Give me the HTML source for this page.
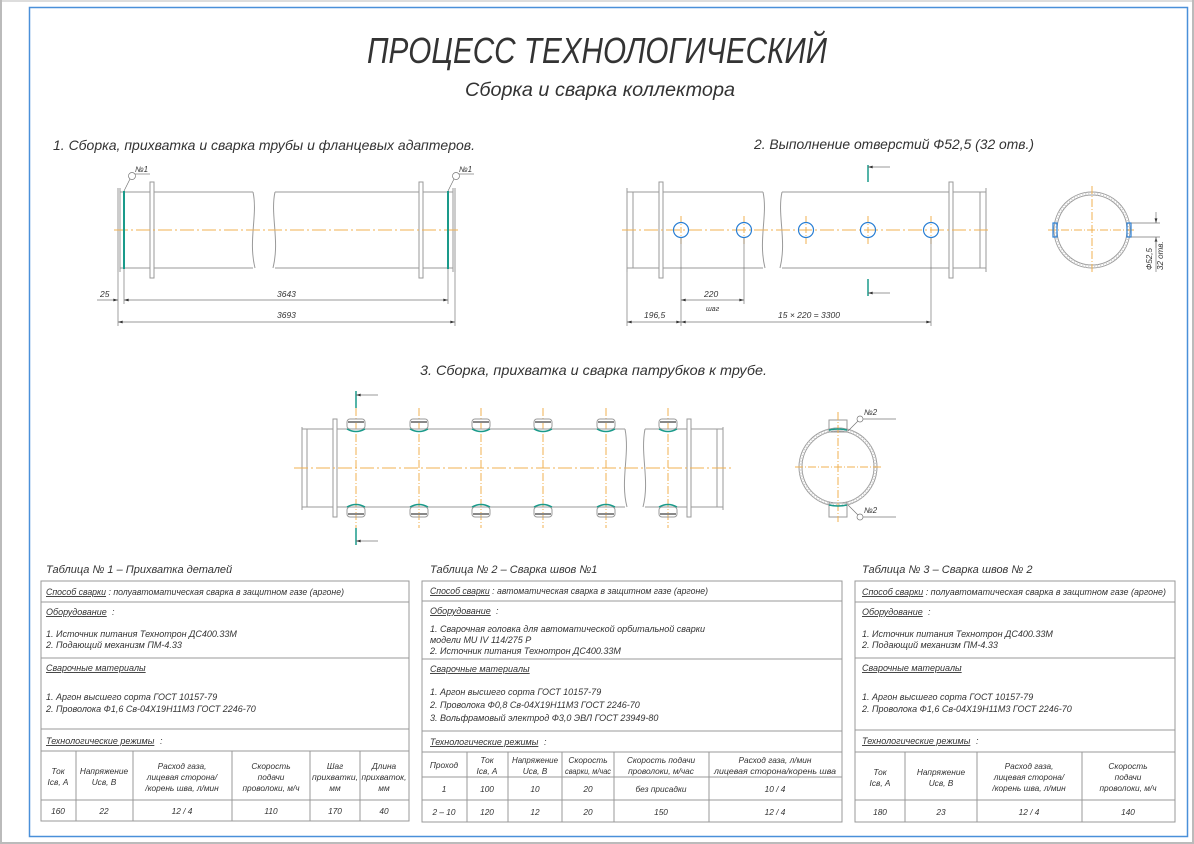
<!DOCTYPE html>
<html><head><meta charset="utf-8"><style>
html,body{margin:0;padding:0;background:#fff;}
svg{display:block;}
text{font-family:"Liberation Sans","DejaVu Sans",sans-serif;font-style:italic;fill:#333;}
.t{font-size:9px;}
.s{font-size:8.3px;}
.g{stroke:#9a9a9a;stroke-width:1;fill:none;}
.d{stroke:#777;stroke-width:0.7;fill:none;}
.c{stroke:#f0b050;stroke-width:1;stroke-dasharray:14 3 2 3;fill:none;}
.w{stroke:#1a9a8a;stroke-width:2;fill:none;}
.h{stroke:#2a7fd4;stroke-width:1.2;fill:none;}
.tb{stroke:#999;stroke-width:1;fill:none;}
</style></head><body>
<svg width="1194" height="844" viewBox="0 0 1194 844" xmlns="http://www.w3.org/2000/svg">
<defs><marker id="a" viewBox="0 0 10 6" refX="10" refY="3" markerWidth="8" markerHeight="4" orient="auto-start-reverse"><path d="M0,0L10,3L0,6z" fill="#333"/></marker></defs>
<rect x="0" y="0" width="1194" height="844" fill="#fff"/>
<line x1="1" y1="0" x2="1" y2="844" stroke="#bbb" stroke-width="2"/>
<line x1="0" y1="1" x2="1194" y2="1" stroke="#bbb" stroke-width="1"/>
<line x1="1193" y1="0" x2="1193" y2="844" stroke="#bbb" stroke-width="2"/>
<line x1="0" y1="843" x2="1194" y2="843" stroke="#bbb" stroke-width="2"/>
<rect x="29.5" y="7.5" width="1158" height="829" fill="none" stroke="#4a90d9" stroke-width="1.5"/>

<text x="597" y="63" font-size="36" text-anchor="middle" textLength="460" lengthAdjust="spacingAndGlyphs" style="font-weight:300">ПРОЦЕСС ТЕХНОЛОГИЧЕСКИЙ</text>
<text x="600" y="96" font-size="19" text-anchor="middle" textLength="270" lengthAdjust="spacingAndGlyphs">Сборка и сварка коллектора</text>
<text x="53" y="150" font-size="14" textLength="422" lengthAdjust="spacingAndGlyphs">1.  Сборка, прихватка и сварка трубы и фланцевых адаптеров.</text>
<text x="754" y="149" font-size="14" textLength="280" lengthAdjust="spacingAndGlyphs">2. Выполнение отверстий Ф52,5 (32 отв.)</text>
<text x="420" y="375" font-size="14" textLength="347" lengthAdjust="spacingAndGlyphs">3.  Сборка, прихватка и сварка патрубков к трубе.</text>

<!-- Drawing 1 -->
<g class="g">
<line x1="118" y1="188" x2="118" y2="272"/><line x1="120" y1="188" x2="120" y2="272"/>
<line x1="120" y1="192" x2="253" y2="192"/><line x1="120" y1="268" x2="253" y2="268"/>
<rect x="150" y="182" width="4" height="96" fill="#fff"/>
<path d="M253,192 C258,215 248,240 255,268"/>
<path d="M275,192 C270,215 280,240 273,268"/>
<line x1="275" y1="192" x2="453" y2="192"/><line x1="275" y1="268" x2="453" y2="268"/>
<rect x="419" y="182" width="4" height="96" fill="#fff"/>
<line x1="453" y1="188" x2="453" y2="272"/><line x1="455" y1="188" x2="455" y2="272"/>
</g>
<line class="c" x1="114" y1="230" x2="460" y2="230"/>
<line class="w" x1="124" y1="191" x2="124" y2="269"/>
<line class="w" x1="448" y1="191" x2="448" y2="269"/>
<circle cx="132" cy="176" r="3.5" class="d"/><line class="d" x1="130" y1="179" x2="124" y2="191"/><line class="d" x1="135" y1="174" x2="150" y2="174"/>
<text x="135" y="172" font-size="8">№1</text>
<circle cx="456" cy="176" r="3.5" class="d"/><line class="d" x1="454" y1="179" x2="448" y2="191"/><line class="d" x1="459" y1="174" x2="474" y2="174"/>
<text x="459" y="172" font-size="8">№1</text>
<g class="d"><line x1="118" y1="272" x2="118" y2="326"/><line x1="124" y1="269" x2="124" y2="304"/><line x1="448" y1="269" x2="448" y2="304"/><line x1="455" y1="272" x2="455" y2="326"/>
<line x1="97" y1="300" x2="118" y2="300" marker-end="url(#a)"/><line x1="124" y1="300" x2="448" y2="300" marker-start="url(#a)" marker-end="url(#a)"/>
<line x1="118" y1="322" x2="455" y2="322" marker-start="url(#a)" marker-end="url(#a)"/></g>
<text x="100" y="297" font-size="8.5">25</text>
<text x="277" y="297" font-size="8.5">3643</text>
<text x="277" y="318" font-size="8.5">3693</text>

<!-- Drawing 2 -->
<g class="g">
<line x1="627" y1="188" x2="627" y2="272"/><line x1="633" y1="192" x2="633" y2="268"/>
<line x1="627" y1="192" x2="763" y2="192"/><line x1="627" y1="268" x2="763" y2="268"/>
<rect x="659" y="182" width="4" height="96" fill="#fff"/>
<path d="M763,192 C768,215 758,240 765,268"/>
<path d="M782,192 C777,215 787,240 780,268"/>
<line x1="782" y1="192" x2="986" y2="192"/><line x1="782" y1="268" x2="986" y2="268"/>
<rect x="949" y="182" width="4" height="96" fill="#fff"/>
<line x1="980" y1="192" x2="980" y2="268"/><line x1="986" y1="188" x2="986" y2="272"/>
</g>
<line class="c" x1="622" y1="230" x2="990" y2="230"/>
<g class="c" style="stroke-dasharray:6 2 1 2"><line x1="681" y1="216" x2="681" y2="244"/><line x1="744" y1="216" x2="744" y2="244"/><line x1="806" y1="216" x2="806" y2="244"/><line x1="868" y1="216" x2="868" y2="244"/><line x1="931" y1="216" x2="931" y2="244"/></g>
<g class="h"><circle cx="681" cy="230" r="7.5"/><circle cx="744" cy="230" r="7.5"/><circle cx="806" cy="230" r="7.5"/><circle cx="868" cy="230" r="7.5"/><circle cx="931" cy="230" r="7.5"/></g>
<line class="w" style="stroke-width:1.5" x1="868" y1="165" x2="868" y2="182"/><line class="d" x1="868" y1="167" x2="890" y2="167" marker-start="url(#a)"/>
<line class="w" style="stroke-width:1.5" x1="868" y1="279" x2="868" y2="296"/><line class="d" x1="868" y1="293" x2="890" y2="293" marker-start="url(#a)"/>
<g class="d"><line x1="627" y1="272" x2="627" y2="326"/><line x1="681" y1="238" x2="681" y2="326"/><line x1="744" y1="238" x2="744" y2="304"/><line x1="931" y1="238" x2="931" y2="326"/>
<line x1="681" y1="300" x2="744" y2="300" marker-start="url(#a)" marker-end="url(#a)"/>
<line x1="627" y1="322" x2="681" y2="322" marker-start="url(#a)" marker-end="url(#a)"/>
<line x1="681" y1="322" x2="931" y2="322" marker-start="url(#a)" marker-end="url(#a)"/></g>
<text x="704" y="297" font-size="8.5">220</text>
<text x="706" y="311" font-size="7">шаг</text>
<text x="644" y="318" font-size="8.5">196,5</text>
<text x="778" y="318" font-size="8.5">15 × 220 = 3300</text>
<!-- circle 2 -->
<circle cx="1092" cy="230" r="38" class="g"/><circle cx="1092" cy="230" r="35" class="g"/>
<circle cx="1092" cy="230" r="36.5" fill="none" stroke="#ccc" stroke-width="3" stroke-dasharray="1 2"/>
<g class="c" style="stroke-dasharray:8 2 1 2"><line x1="1048" y1="230" x2="1136" y2="230"/><line x1="1092" y1="186" x2="1092" y2="274"/></g>
<rect x="1053" y="223" width="4" height="14" class="h"/><rect x="1127" y="223" width="4" height="14" class="h"/>
<g class="d"><line x1="1131" y1="223" x2="1160" y2="223"/><line x1="1131" y1="237" x2="1160" y2="237"/><line x1="1156" y1="212" x2="1156" y2="223" marker-end="url(#a)"/><line x1="1156" y1="248" x2="1156" y2="237" marker-end="url(#a)"/><line x1="1156" y1="237" x2="1156" y2="272"/></g>
<text font-size="8" transform="translate(1152,270) rotate(-90)">Ф52,5</text>
<text font-size="8" transform="translate(1163,270) rotate(-90)">32 отв.</text>

<!-- Drawing 3 -->
<g class="g">
<line x1="302" y1="427" x2="302" y2="510"/><line x1="307" y1="429" x2="307" y2="507"/>
<line x1="302" y1="429" x2="625" y2="429"/><line x1="302" y1="507" x2="625" y2="507"/>
<rect x="333" y="419" width="4" height="98" fill="#fff"/>
<path d="M625,429 C630,455 620,480 627,507"/>
<path d="M645,429 C640,455 650,480 643,507"/>
<line x1="645" y1="429" x2="723" y2="429"/><line x1="645" y1="507" x2="723" y2="507"/>
<rect x="687" y="419" width="4" height="98" fill="#fff"/>
<line x1="717" y1="429" x2="717" y2="507"/><line x1="723" y1="427" x2="723" y2="510"/>
</g>
<line class="c" x1="294" y1="468" x2="732" y2="468"/>
<g id="nz">
<line class="c" style="stroke-dasharray:8 2 1 2" x1="356" y1="408" x2="356" y2="528"/>
<rect x="347" y="419" width="18" height="10" rx="3" class="g" fill="#fff"/><line x1="348" y1="422" x2="364" y2="422" stroke="#888" stroke-width="2"/>
<path d="M347,429 Q356,434 365,429" class="w" style="stroke-width:1.5"/>
<rect x="347" y="507" width="18" height="10" rx="3" class="g" fill="#fff"/><line x1="348" y1="514" x2="364" y2="514" stroke="#888" stroke-width="2"/>
<path d="M347,507 Q356,502 365,507" class="w" style="stroke-width:1.5"/>
</g>
<use href="#nz" x="63"/><use href="#nz" x="125"/><use href="#nz" x="187"/><use href="#nz" x="250"/><use href="#nz" x="312"/>
<line class="w" style="stroke-width:1.5" x1="356" y1="391" x2="356" y2="408"/><line class="d" x1="356" y1="395" x2="378" y2="395" marker-start="url(#a)"/>
<line class="w" style="stroke-width:1.5" x1="356" y1="528" x2="356" y2="545"/><line class="d" x1="356" y1="541" x2="378" y2="541" marker-start="url(#a)"/>
<!-- circle 3 -->
<rect x="829" y="420" width="18" height="12" class="g" fill="#fff"/><rect x="829" y="503" width="18" height="14" class="g" fill="#fff"/>
<circle cx="838" cy="467" r="39" class="g"/><circle cx="838" cy="467" r="36" class="g"/>
<circle cx="838" cy="467" r="37.5" fill="none" stroke="#ccc" stroke-width="3" stroke-dasharray="1 2"/>
<g class="c" style="stroke-dasharray:8 2 1 2"><line x1="795" y1="467" x2="881" y2="467"/><line x1="838" y1="412" x2="838" y2="522"/></g>
<path d="M829,430 Q838,428 847,430" class="w" style="stroke-width:1.5"/><path d="M829,505 Q838,507 847,505" class="w" style="stroke-width:1.5"/>
<circle cx="860" cy="419" r="3" class="d"/><line class="d" x1="858" y1="421" x2="848" y2="431"/><line class="d" x1="863" y1="419" x2="896" y2="419"/><text x="864" y="415" font-size="8">№2</text>
<circle cx="860" cy="517" r="3" class="d"/><line class="d" x1="858" y1="515" x2="848" y2="505"/><line class="d" x1="863" y1="517" x2="896" y2="517"/><text x="864" y="513" font-size="8">№2</text>

<!-- Table titles -->
<text x="46" y="573" font-size="11">Таблица № 1 – Прихватка деталей</text>
<text x="430" y="573" font-size="11">Таблица № 2 – Сварка швов №1</text>
<text x="862" y="573" font-size="11">Таблица № 3 – Сварка швов № 2</text>

<!-- Table 1 -->
<g class="tb">
<rect x="41" y="581" width="368" height="240"/>
<line x1="41" y1="602" x2="409" y2="602"/><line x1="41" y1="658" x2="409" y2="658"/><line x1="41" y1="729" x2="409" y2="729"/><line x1="41" y1="751" x2="409" y2="751"/><line x1="41" y1="800" x2="409" y2="800"/>
<line x1="76" y1="751" x2="76" y2="821"/><line x1="133" y1="751" x2="133" y2="821"/><line x1="232" y1="751" x2="232" y2="821"/><line x1="310" y1="751" x2="310" y2="821"/><line x1="360" y1="751" x2="360" y2="821"/>
</g>
<g class="t">
<text x="46" y="595" textLength="298" lengthAdjust="spacingAndGlyphs"><tspan text-decoration="underline">Способ сварки</tspan> :  полуавтоматическая сварка в защитном газе (аргоне)</text>
<text x="46" y="615" text-decoration="underline">Оборудование</text><text x="112" y="615">:</text>
<text x="46" y="637">1.  Источник питания Технотрон ДС400.33М</text>
<text x="46" y="648">2.  Подающий механизм ПМ-4.33</text>
<text x="46" y="671" text-decoration="underline">Сварочные материалы</text><text x="143" y="671">:</text>
<text x="46" y="700">1.  Аргон высшего сорта ГОСТ 10157-79</text>
<text x="46" y="712">2.  Проволока Ф1,6 Св-04Х19Н11М3 ГОСТ 2246-70</text>
<text x="46" y="744" text-decoration="underline">Технологические режимы</text><text x="160" y="744">:</text>
<g text-anchor="middle" class="s">
<text x="58" y="774">Ток</text><text x="58" y="785">Iсв, А</text>
<text x="104" y="774">Напряжение</text><text x="104" y="785">Uсв, В</text>
<text x="182" y="769">Расход газа,</text><text x="182" y="780">лицевая сторона/</text><text x="182" y="791">/корень шва, л/мин</text>
<text x="271" y="769">Скорость</text><text x="271" y="780">подачи</text><text x="271" y="791">проволоки, м/ч</text>
<text x="335" y="769">Шаг</text><text x="335" y="780" textLength="46" lengthAdjust="spacingAndGlyphs">прихватки,</text><text x="335" y="791">мм</text>
<text x="384" y="769">Длина</text><text x="384" y="780" textLength="45" lengthAdjust="spacingAndGlyphs">прихваток,</text><text x="384" y="791">мм</text>
<text x="58" y="814">160</text><text x="104" y="814">22</text><text x="182" y="814">12 / 4</text><text x="271" y="814">110</text><text x="335" y="814">170</text><text x="384" y="814">40</text>
</g></g>

<!-- Table 2 -->
<g class="tb">
<rect x="422" y="581" width="420" height="241"/>
<line x1="422" y1="601" x2="842" y2="601"/><line x1="422" y1="659" x2="842" y2="659"/><line x1="422" y1="731" x2="842" y2="731"/><line x1="422" y1="752" x2="842" y2="752"/><line x1="422" y1="777" x2="842" y2="777"/><line x1="422" y1="800" x2="842" y2="800"/>
<line x1="467" y1="752" x2="467" y2="822"/><line x1="508" y1="752" x2="508" y2="822"/><line x1="562" y1="752" x2="562" y2="822"/><line x1="614" y1="752" x2="614" y2="822"/><line x1="709" y1="752" x2="709" y2="822"/>
</g>
<g class="t">
<text x="430" y="594" textLength="278" lengthAdjust="spacingAndGlyphs"><tspan text-decoration="underline">Способ сварки</tspan> :  автоматическая сварка в защитном газе (аргоне)</text>
<text x="430" y="614" text-decoration="underline">Оборудование</text><text x="496" y="614">:</text>
<text x="430" y="632">1.  Сварочная головка для автоматической орбитальной сварки</text>
<text x="430" y="643">модели MU IV 114/275 P</text>
<text x="430" y="654">2. Источник питания Технотрон ДС400.33М</text>
<text x="430" y="672" text-decoration="underline">Сварочные материалы</text><text x="527" y="672">:</text>
<text x="430" y="695">1.  Аргон высшего сорта ГОСТ 10157-79</text>
<text x="430" y="708">2.  Проволока Ф0,8 Св-04Х19Н11М3 ГОСТ 2246-70</text>
<text x="430" y="721">3.  Вольфрамовый электрод Ф3,0 ЭВЛ ГОСТ 23949-80</text>
<text x="430" y="745" text-decoration="underline">Технологические режимы</text><text x="544" y="745">:</text>
<g text-anchor="middle" class="s">
<text x="444" y="768">Проход</text>
<text x="487" y="763">Ток</text><text x="487" y="774">Iсв, А</text>
<text x="535" y="763" textLength="46" lengthAdjust="spacingAndGlyphs">Напряжение</text><text x="535" y="774">Uсв, В</text>
<text x="588" y="763">Скорость</text><text x="588" y="774" textLength="46" lengthAdjust="spacingAndGlyphs">сварки, м/час</text>
<text x="661" y="763">Скорость подачи</text><text x="661" y="774">проволоки, м/час</text>
<text x="775" y="763">Расход газа, л/мин</text><text x="775" y="774" textLength="122" lengthAdjust="spacingAndGlyphs">лицевая сторона/корень шва</text>
<text x="444" y="792">1</text><text x="487" y="792">100</text><text x="535" y="792">10</text><text x="588" y="792">20</text><text x="661" y="792">без присадки</text><text x="775" y="792">10 / 4</text>
<text x="444" y="815">2 – 10</text><text x="487" y="815">120</text><text x="535" y="815">12</text><text x="588" y="815">20</text><text x="661" y="815">150</text><text x="775" y="815">12 / 4</text>
</g></g>

<!-- Table 3 -->
<g class="tb">
<rect x="855" y="581" width="320" height="241"/>
<line x1="855" y1="602" x2="1175" y2="602"/><line x1="855" y1="658" x2="1175" y2="658"/><line x1="855" y1="730" x2="1175" y2="730"/><line x1="855" y1="752" x2="1175" y2="752"/><line x1="855" y1="800" x2="1175" y2="800"/>
<line x1="905" y1="752" x2="905" y2="822"/><line x1="977" y1="752" x2="977" y2="822"/><line x1="1082" y1="752" x2="1082" y2="822"/>
</g>
<g class="t">
<text x="862" y="595" textLength="304" lengthAdjust="spacingAndGlyphs"><tspan text-decoration="underline">Способ сварки</tspan> :  полуавтоматическая сварка в защитном газе (аргоне)</text>
<text x="862" y="615" text-decoration="underline">Оборудование</text><text x="928" y="615">:</text>
<text x="862" y="637">1.  Источник питания Технотрон ДС400.33М</text>
<text x="862" y="648">2.  Подающий механизм ПМ-4.33</text>
<text x="862" y="671" text-decoration="underline">Сварочные материалы</text><text x="959" y="671">:</text>
<text x="862" y="700">1.  Аргон высшего сорта ГОСТ 10157-79</text>
<text x="862" y="712">2.  Проволока Ф1,6 Св-04Х19Н11М3 ГОСТ 2246-70</text>
<text x="862" y="744" text-decoration="underline">Технологические режимы</text><text x="976" y="744">:</text>
<g text-anchor="middle" class="s">
<text x="880" y="775">Ток</text><text x="880" y="786">Iсв, А</text>
<text x="941" y="775">Напряжение</text><text x="941" y="786">Uсв, В</text>
<text x="1029" y="769">Расход газа,</text><text x="1029" y="780">лицевая сторона/</text><text x="1029" y="791">/корень шва, л/мин</text>
<text x="1128" y="769">Скорость</text><text x="1128" y="780">подачи</text><text x="1128" y="791">проволоки, м/ч</text>
<text x="880" y="815">180</text><text x="941" y="815">23</text><text x="1029" y="815">12 / 4</text><text x="1128" y="815">140</text>
</g></g>
</svg>
</body></html>
